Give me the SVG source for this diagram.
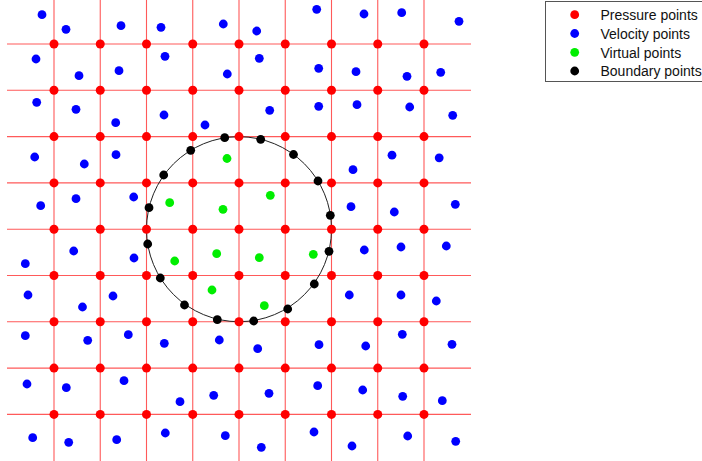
<svg xmlns="http://www.w3.org/2000/svg" width="702" height="461" viewBox="0 0 702 461">
<style>
.gl{stroke:#ff5a5a;stroke-width:1.1;fill:none}
.p{fill:#ff0000}.v{fill:#0000ff}.g{fill:#00ee00}.b{fill:#000}
.lt{font-family:"Liberation Sans",Arial,sans-serif;font-size:14px;fill:#111}
</style>
<rect width="702" height="461" fill="#fff"/>
<g id="grid">
<path class="gl" d="M54 0V461M100.25 0V461M146.5 0V461M192.75 0V461M239 0V461M285.25 0V461M331.5 0V461M377.75 0V461M424 0V461"/>
<path class="gl" d="M7 44H471M7 90.3H471M7 136.6H471M7 182.9H471M7 229.2H471M7 275.5H471M7 321.8H471M7 368.1H471M7 414.4H471"/>
</g>
<g id="boundary-circle"><circle cx="239" cy="229.2" r="92.5" fill="none" stroke="#222" stroke-width="1"/></g>
<g id="pressure-points" class="p">
<circle cx="54" cy="44" r="4.5"/><circle cx="100.25" cy="44" r="4.5"/><circle cx="146.5" cy="44" r="4.5"/><circle cx="192.75" cy="44" r="4.5"/><circle cx="239" cy="44" r="4.5"/><circle cx="285.25" cy="44" r="4.5"/><circle cx="331.5" cy="44" r="4.5"/><circle cx="377.75" cy="44" r="4.5"/><circle cx="424" cy="44" r="4.5"/>
<circle cx="54" cy="90.3" r="4.5"/><circle cx="100.25" cy="90.3" r="4.5"/><circle cx="146.5" cy="90.3" r="4.5"/><circle cx="192.75" cy="90.3" r="4.5"/><circle cx="239" cy="90.3" r="4.5"/><circle cx="285.25" cy="90.3" r="4.5"/><circle cx="331.5" cy="90.3" r="4.5"/><circle cx="377.75" cy="90.3" r="4.5"/><circle cx="424" cy="90.3" r="4.5"/>
<circle cx="54" cy="136.6" r="4.5"/><circle cx="100.25" cy="136.6" r="4.5"/><circle cx="146.5" cy="136.6" r="4.5"/><circle cx="192.75" cy="136.6" r="4.5"/><circle cx="239" cy="136.6" r="4.5"/><circle cx="285.25" cy="136.6" r="4.5"/><circle cx="331.5" cy="136.6" r="4.5"/><circle cx="377.75" cy="136.6" r="4.5"/><circle cx="424" cy="136.6" r="4.5"/>
<circle cx="54" cy="182.9" r="4.5"/><circle cx="100.25" cy="182.9" r="4.5"/><circle cx="146.5" cy="182.9" r="4.5"/><circle cx="192.75" cy="182.9" r="4.5"/><circle cx="239" cy="182.9" r="4.5"/><circle cx="285.25" cy="182.9" r="4.5"/><circle cx="331.5" cy="182.9" r="4.5"/><circle cx="377.75" cy="182.9" r="4.5"/><circle cx="424" cy="182.9" r="4.5"/>
<circle cx="54" cy="229.2" r="4.5"/><circle cx="100.25" cy="229.2" r="4.5"/><circle cx="146.5" cy="229.2" r="4.5"/><circle cx="192.75" cy="229.2" r="4.5"/><circle cx="239" cy="229.2" r="4.5"/><circle cx="285.25" cy="229.2" r="4.5"/><circle cx="331.5" cy="229.2" r="4.5"/><circle cx="377.75" cy="229.2" r="4.5"/><circle cx="424" cy="229.2" r="4.5"/>
<circle cx="54" cy="275.5" r="4.5"/><circle cx="100.25" cy="275.5" r="4.5"/><circle cx="146.5" cy="275.5" r="4.5"/><circle cx="192.75" cy="275.5" r="4.5"/><circle cx="239" cy="275.5" r="4.5"/><circle cx="285.25" cy="275.5" r="4.5"/><circle cx="331.5" cy="275.5" r="4.5"/><circle cx="377.75" cy="275.5" r="4.5"/><circle cx="424" cy="275.5" r="4.5"/>
<circle cx="54" cy="321.8" r="4.5"/><circle cx="100.25" cy="321.8" r="4.5"/><circle cx="146.5" cy="321.8" r="4.5"/><circle cx="192.75" cy="321.8" r="4.5"/><circle cx="239" cy="321.8" r="4.5"/><circle cx="285.25" cy="321.8" r="4.5"/><circle cx="331.5" cy="321.8" r="4.5"/><circle cx="377.75" cy="321.8" r="4.5"/><circle cx="424" cy="321.8" r="4.5"/>
<circle cx="54" cy="368.1" r="4.5"/><circle cx="100.25" cy="368.1" r="4.5"/><circle cx="146.5" cy="368.1" r="4.5"/><circle cx="192.75" cy="368.1" r="4.5"/><circle cx="239" cy="368.1" r="4.5"/><circle cx="285.25" cy="368.1" r="4.5"/><circle cx="331.5" cy="368.1" r="4.5"/><circle cx="377.75" cy="368.1" r="4.5"/><circle cx="424" cy="368.1" r="4.5"/>
<circle cx="54" cy="414.4" r="4.5"/><circle cx="100.25" cy="414.4" r="4.5"/><circle cx="146.5" cy="414.4" r="4.5"/><circle cx="192.75" cy="414.4" r="4.5"/><circle cx="239" cy="414.4" r="4.5"/><circle cx="285.25" cy="414.4" r="4.5"/><circle cx="331.5" cy="414.4" r="4.5"/><circle cx="377.75" cy="414.4" r="4.5"/><circle cx="424" cy="414.4" r="4.5"/>
</g>
<g id="velocity-points" class="v">
<circle cx="42" cy="14.7" r="4.4"/><circle cx="66" cy="29.3" r="4.4"/><circle cx="121" cy="25.7" r="4.4"/><circle cx="161" cy="27.3" r="4.4"/><circle cx="223.3" cy="24" r="4.4"/><circle cx="256.7" cy="31" r="4.4"/><circle cx="316.7" cy="9.3" r="4.4"/><circle cx="364" cy="14" r="4.4"/><circle cx="401.7" cy="12.7" r="4.4"/><circle cx="459" cy="21.3" r="4.4"/>
<circle cx="36" cy="59" r="4.4"/><circle cx="79" cy="75.7" r="4.4"/><circle cx="119" cy="70.7" r="4.4"/><circle cx="165" cy="56.3" r="4.4"/><circle cx="227.3" cy="74" r="4.4"/><circle cx="259.3" cy="58.3" r="4.4"/><circle cx="318.7" cy="68.3" r="4.4"/><circle cx="356" cy="71.7" r="4.4"/><circle cx="407" cy="76.3" r="4.4"/><circle cx="440.7" cy="72.3" r="4.4"/>
<circle cx="36.7" cy="102.3" r="4.4"/><circle cx="76" cy="109.3" r="4.4"/><circle cx="115.7" cy="122.7" r="4.4"/><circle cx="164" cy="115" r="4.4"/><circle cx="205" cy="125" r="4.4"/><circle cx="269.7" cy="110.3" r="4.4"/><circle cx="318.7" cy="106.3" r="4.4"/><circle cx="357" cy="104.7" r="4.4"/><circle cx="409.7" cy="107" r="4.4"/><circle cx="452.7" cy="115.3" r="4.4"/>
<circle cx="34.7" cy="157" r="4.4"/><circle cx="84.3" cy="164" r="4.4"/><circle cx="116" cy="154.7" r="4.4"/><circle cx="353" cy="169.7" r="4.4"/><circle cx="392" cy="155.2" r="4.4"/><circle cx="439.2" cy="157.8" r="4.4"/>
<circle cx="40.7" cy="205.7" r="4.4"/><circle cx="76" cy="198.7" r="4.4"/><circle cx="133.7" cy="197" r="4.4"/><circle cx="351" cy="206.7" r="4.4"/><circle cx="394.3" cy="212" r="4.4"/><circle cx="455.3" cy="204.3" r="4.4"/>
<circle cx="73.7" cy="251" r="4.4"/><circle cx="25.3" cy="263.7" r="4.4"/><circle cx="134" cy="258" r="4.4"/><circle cx="364.3" cy="250" r="4.4"/><circle cx="401" cy="247" r="4.4"/><circle cx="446.3" cy="246" r="4.4"/>
<circle cx="28" cy="295" r="4.4"/><circle cx="82.5" cy="307" r="4.4"/><circle cx="113" cy="296" r="4.4"/><circle cx="349.3" cy="295" r="4.4"/><circle cx="401" cy="295" r="4.4"/><circle cx="436.3" cy="301" r="4.4"/>
<circle cx="25.3" cy="335.7" r="4.4"/><circle cx="87.7" cy="340.3" r="4.4"/><circle cx="128.3" cy="334.7" r="4.4"/><circle cx="164.3" cy="343.3" r="4.4"/><circle cx="219.3" cy="340" r="4.4"/><circle cx="257.7" cy="348.7" r="4.4"/><circle cx="319" cy="344.7" r="4.4"/><circle cx="365.7" cy="346" r="4.4"/><circle cx="402.3" cy="334.3" r="4.4"/><circle cx="452" cy="344.3" r="4.4"/>
<circle cx="27" cy="384" r="4.4"/><circle cx="66.3" cy="387.7" r="4.4"/><circle cx="124" cy="380.7" r="4.4"/><circle cx="180" cy="401.7" r="4.4"/><circle cx="213.7" cy="395.3" r="4.4"/><circle cx="269" cy="393.3" r="4.4"/><circle cx="317.7" cy="385.7" r="4.4"/><circle cx="362.7" cy="390" r="4.4"/><circle cx="402.7" cy="396.3" r="4.4"/><circle cx="442.3" cy="400.7" r="4.4"/>
<circle cx="32.7" cy="437.7" r="4.4"/><circle cx="68.7" cy="442.3" r="4.4"/><circle cx="116.7" cy="439.7" r="4.4"/><circle cx="165.3" cy="433" r="4.4"/><circle cx="225.3" cy="435.7" r="4.4"/><circle cx="261.3" cy="447.3" r="4.4"/><circle cx="314" cy="432" r="4.4"/><circle cx="352" cy="446" r="4.4"/><circle cx="407.7" cy="436" r="4.4"/><circle cx="455.7" cy="441.3" r="4.4"/>
</g>
<g id="virtual-points" class="g">
<circle cx="227" cy="158.5" r="4.4"/><circle cx="169.7" cy="202.7" r="4.4"/><circle cx="223" cy="209.3" r="4.4"/><circle cx="270.3" cy="195.3" r="4.4"/><circle cx="174.7" cy="261" r="4.4"/><circle cx="216.7" cy="253.7" r="4.4"/><circle cx="259.3" cy="257.7" r="4.4"/><circle cx="313.3" cy="254.3" r="4.4"/><circle cx="212" cy="290" r="4.4"/><circle cx="264.3" cy="305.7" r="4.4"/>
</g>
<g id="boundary-points" class="b">
<circle cx="224.7" cy="137.7" r="4.4"/><circle cx="260.7" cy="139.3" r="4.4"/><circle cx="293.5" cy="154.5" r="4.4"/><circle cx="318" cy="181" r="4.4"/><circle cx="330.3" cy="215.3" r="4.4"/><circle cx="329" cy="251.3" r="4.4"/><circle cx="314.3" cy="284" r="4.4"/><circle cx="287.7" cy="309" r="4.4"/><circle cx="253.7" cy="321" r="4.4"/><circle cx="217.3" cy="319.7" r="4.4"/><circle cx="184.5" cy="305" r="4.4"/><circle cx="160.3" cy="278" r="4.4"/><circle cx="147.7" cy="244" r="4.4"/><circle cx="149" cy="207.7" r="4.4"/><circle cx="163.7" cy="175" r="4.4"/><circle cx="190.7" cy="150.3" r="4.4"/>
</g>
<g id="legend">
<rect x="545.5" y="1.5" width="170" height="80" fill="#fff" stroke="#555" stroke-width="1"/>
<circle class="p" cx="574.7" cy="14.7" r="4.4"/><text class="lt" x="600.5" y="20">Pressure points</text>
<circle class="v" cx="574.7" cy="33.5" r="4.4"/><text class="lt" x="600.5" y="38.8">Velocity points</text>
<circle class="g" cx="574.7" cy="52.3" r="4.4"/><text class="lt" x="600.5" y="57.6">Virtual points</text>
<circle class="b" cx="574.7" cy="71" r="4.4"/><text class="lt" x="600.5" y="76.3">Boundary points</text>
</g>
</svg>
